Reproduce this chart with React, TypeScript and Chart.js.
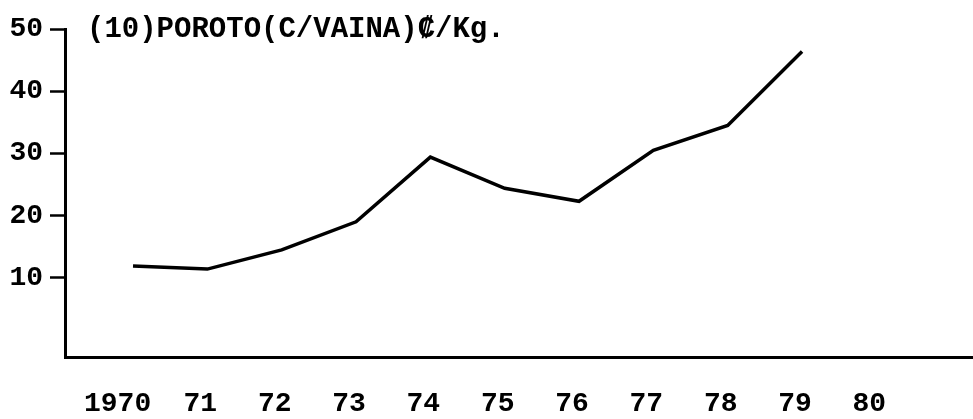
import React, { useEffect, useRef } from "react";
import { Chart, registerables } from "chart.js";

Chart.register(...registerables);

// ---- data ----
const years: number[] = [1970, 1971, 1972, 1973, 1974, 1975, 1976, 1977, 1978, 1979];
const prices: number[] = [11.9, 11.4, 14.5, 19.0, 29.4, 24.4, 22.3, 30.5, 34.5, 46.4];
const xTickYears: number[] = [1970, 1971, 1972, 1973, 1974, 1975, 1976, 1977, 1978, 1979, 1980];
const xTickLabels: string[] = ["1970", "71", "72", "73", "74", "75", "76", "77", "78", "79", "80"];
const yTickValues: number[] = [10, 20, 30, 40, 50];
const chartTitle = "(10)POROTO(C/VAINA)\u20A1/Kg.";

const FONT = '"Liberation Mono", "DejaVu Sans Mono", monospace';

export default function App() {
  const ref = useRef<HTMLCanvasElement | null>(null);

  useEffect(() => {
    if (!ref.current) return;
    const titlePlugin = {
      id: "titleText",
      afterDraw(chart: any) {
        const { ctx, chartArea, scales } = chart;
        ctx.save();
        ctx.font = `bold 29px ${FONT}`;
        ctx.fillStyle = "#000";
        ctx.textAlign = "left";
        ctx.textBaseline = "middle";
        ctx.fillText(chartTitle, chartArea.left + 22, scales.y.getPixelForValue(50) + 1);
        ctx.restore();
      },
    };
    const chart = new Chart(ref.current, {
      type: "line",
      data: {
        datasets: [
          {
            data: years.map((y, i) => ({ x: y, y: prices[i] })),
            borderColor: "#000",
            borderWidth: 3.5,
            pointRadius: 0,
            tension: 0,
            fill: false,
          },
        ],
      },
      options: {
        responsive: false,
        animation: false,
        devicePixelRatio: 1,
        layout: { padding: { top: 29, left: 0, right: 0, bottom: 0 } },
        plugins: { legend: { display: false }, tooltip: { enabled: false }, title: { display: false } },
        scales: {
          x: {
            type: "linear",
            min: 1969.085,
            max: 1981.3,
            afterFit: (s: any) => {
              s.height = 62;
            },
            afterBuildTicks: (s: any) => {
              s.ticks = xTickYears.map((v) => ({ value: v }));
            },
            grid: { display: false, drawTicks: false },
            border: { display: true, color: "#000", width: 3 },
            ticks: {
              color: "#000",
              font: { family: FONT, size: 28, weight: "bold" },
              padding: 30,
              labelOffset: -7,
              maxRotation: 0,
              autoSkip: false,
              callback: (_v: any, i: number) => xTickLabels[i] + (i === 0 ? " " : ""),
            },
          },
          y: {
            type: "linear",
            min: -2.73,
            max: 50,
            afterFit: (s: any) => {
              s.width = 65;
            },
            afterBuildTicks: (s: any) => {
              s.ticks = yTickValues.map((v) => ({ value: v }));
            },
            grid: { display: true, drawOnChartArea: false, drawTicks: true, tickLength: 15, tickColor: "#000", tickWidth: 2.5 },
            border: { display: true, color: "#000", width: 3 },
            ticks: {
              color: "#000",
              font: { family: FONT, size: 28, weight: "bold" },
              padding: 7,
              autoSkip: false,
              callback: (v: any) => String(v),
            },
          },
        },
      },
      plugins: [titlePlugin],
    });
    return () => chart.destroy();
  }, []);

  return (
    <div style={{ position: "fixed", left: 0, top: 0, width: 973, height: 419, background: "#fff" }}>
      <canvas ref={ref} width={973} height={419} style={{ display: "block", width: 973, height: 419 }} />
    </div>
  );
}
